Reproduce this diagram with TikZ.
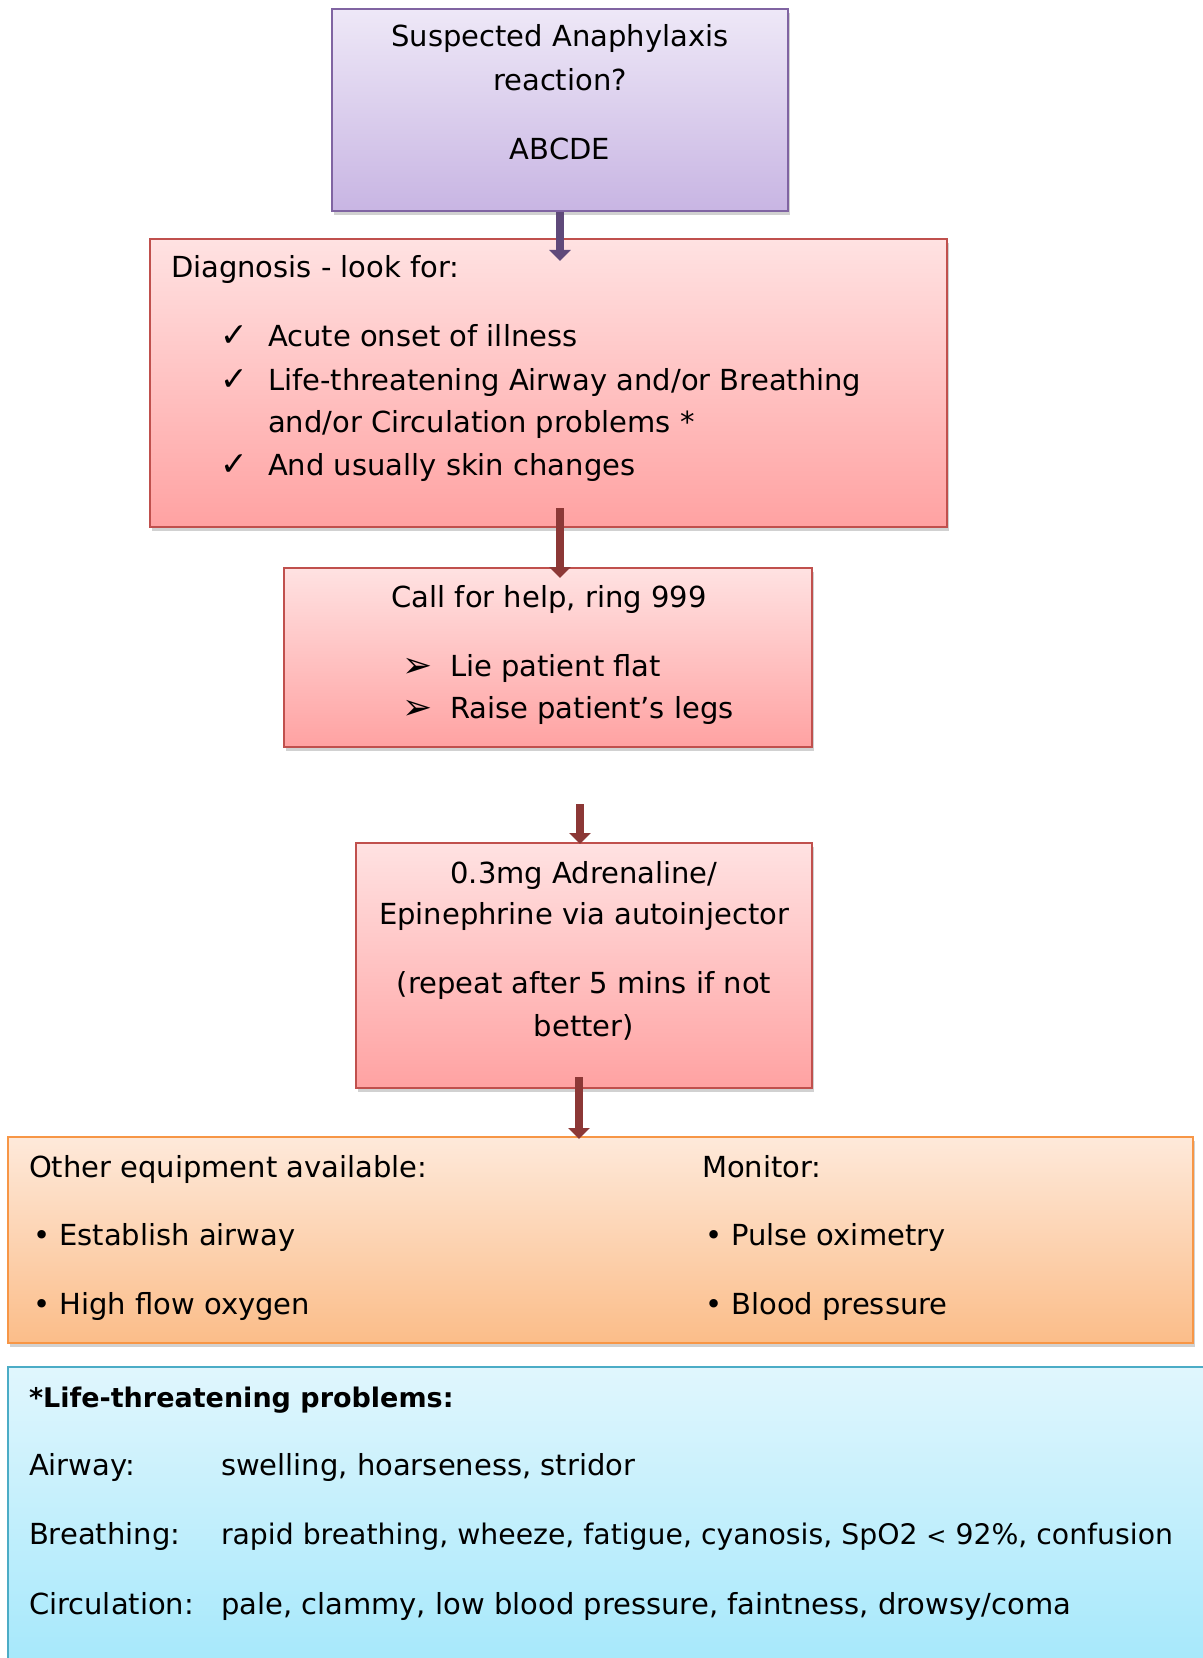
\documentclass[tikz,border=0pt]{standalone}
\usepackage{fontspec}
\setmainfont{DejaVu Sans}
\usetikzlibrary{arrows.meta,shadows,fit,calc}
\definecolor{purTop}{HTML}{EEE8F7}
\definecolor{purBot}{HTML}{C8B5E3}
\definecolor{purLine}{HTML}{8064A2}
\definecolor{purArr}{HTML}{5F497A}
\definecolor{redTop}{HTML}{FFE2E2}
\definecolor{redBot}{HTML}{FFA2A2}
\definecolor{redLine}{HTML}{C0504D}
\definecolor{redArr}{HTML}{8C3836}
\definecolor{orTop}{HTML}{FEE9DA}
\definecolor{orBot}{HTML}{FBBD89}
\definecolor{orLine}{HTML}{F79646}
\definecolor{blTop}{HTML}{E0F6FD}
\definecolor{blBot}{HTML}{A1E7FB}
\definecolor{blLine}{HTML}{4BACC6}
\tikzset{
  boxbase/.style={inner sep=0pt, line width=1pt,
    drop shadow={shadow xshift=1.2pt, shadow yshift=-2.2pt, opacity=0.3, fill=black!60}},
  purbox/.style={boxbase, draw=purLine, top color=purTop, bottom color=purBot},
  redbox/.style={boxbase, draw=redLine, top color=redTop, bottom color=redBot},
  orbox/.style={boxbase, draw=orLine, top color=orTop, bottom color=orBot},
  blbox/.style={boxbase, draw=blLine, top color=blTop, bottom color=blBot},
  txt/.style={inner sep=0pt, outer sep=0pt, font=\fontsize{14.5pt}{17pt}\selectfont, text=black},
  tl/.style={txt, anchor=base west},
  tc/.style={txt, anchor=base},
  sym/.style={tl, font=\fontsize{16.5pt}{17pt}\selectfont},
  arr/.style={line width=4pt, -{Triangle[width=10.5pt,length=5.5pt]}},
}
\begin{document}
\begin{tikzpicture}[x=0.5pt,y=-0.5pt]
\useasboundingbox (0,0) rectangle (1203,1658);
% boxes
\node[purbox, fit={(332,9) (788,211)}] (b1) {};
\node[redbox, fit={(150,239) (947,527)}] (b2) {};
\node[redbox, fit={(284,568) (812,747)}] (b3) {};
\node[redbox, fit={(356,843) (812,1088)}] (b4) {};
\node[orbox, fit={(8,1137) (1193,1343)}] (b5) {};
\node[blbox, fit={(8,1367) (1230,1690)}] (b6) {};
% box 1 text
\node[tc] (t1a) at (560,47) {Suspected Anaphylaxis};
\node[tc] (t1b) at (560,91) {reaction?};
\node[tc] (t1c) at (560,160) {ABCDE};
% box 2 text
\node[tl] (t2) at (171,278) {Diagnosis - look for:};
\node[sym] (c1) at (220,347) {✓};
\node[sym] (c2) at (220,390) {✓};
\node[sym] (c3) at (220,475) {✓};
\node[tl] (t2a) at (268,347) {Acute onset of illness};
\node[tl] (t2b) at (268,390) {Life-threatening Airway and/or Breathing};
\node[tl] (t2c) at (268,432) {and/or Circulation problems *};
\node[tl] (t2d) at (268,475) {And usually skin changes};
% box 3 text
\node[tc] (t3) at (549,607) {Call for help, ring 999};
\node[sym, font=\fontsize{18pt}{18pt}\selectfont] (p1) at (402,677) {➢};
\node[sym, font=\fontsize{18pt}{18pt}\selectfont] (p2) at (402,719) {➢};
\node[tl] (t3a) at (450,676) {Lie patient flat};
\node[tl] (t3b) at (450,718) {Raise patient’s legs};
% box 4 text
\node[tc] (t4a) at (584,883) {0.3mg Adrenaline/};
\node[tc] (t4b) at (584,924) {Epinephrine via autoinjector};
\node[tc] (t4c) at (584,993) {(repeat after 5 mins if not};
\node[tc] (t4d) at (584,1036) {better)};
% box 5 text
\node[tl] (t5a) at (29,1177) {Other equipment available:};
\node[tl] (t5b) at (33,1245) {• Establish airway};
\node[tl] (t5c) at (33,1314) {• High flow oxygen};
\node[tl] (t5d) at (702,1177) {Monitor:};
\node[tl] (t5e) at (705,1245) {• Pulse oximetry};
\node[tl] (t5f) at (705,1314) {• Blood pressure};
% box 6 text
\node[tl, font=\fontsize{13.5pt}{17pt}\selectfont\bfseries] (t6) at (29,1407) {*Life-threatening problems:};
\node[tl] (l1) at (29,1475) {Airway:};
\node[tl] (l2) at (29,1544) {Breathing:};
\node[tl] (l3) at (29,1614) {Circulation:};
\node[tl] (v1) at (221,1475) {swelling, hoarseness, stridor};
\node[tl, font=\fontsize{14.15pt}{17pt}\selectfont] (v2) at (221,1544) {rapid breathing, wheeze, fatigue, cyanosis, SpO2 {\fontsize{12pt}{17pt}\selectfont<} 92\%, confusion};
\node[tl] (v3) at (221,1614) {pale, clammy, low blood pressure, faintness, drowsy/coma};
% connectors
\coordinate (a2s) at (560,508);
\coordinate (a3s) at (580,804);
\coordinate (a4s) at (579,1077);
\draw[arr, purArr] (b1.south) -- ($(b1.south |- b2.north)+(0,23)$);
\draw[arr, redArr] (a2s) -- ($(a2s |- b3.north)+(0,11)$);
\draw[arr, redArr] (a3s) -- ($(a3s |- b4.north)+(0,2)$);
\draw[arr, redArr] (a4s) -- ($(a4s |- b5.north)+(0,3)$);
\end{tikzpicture}
\end{document}
